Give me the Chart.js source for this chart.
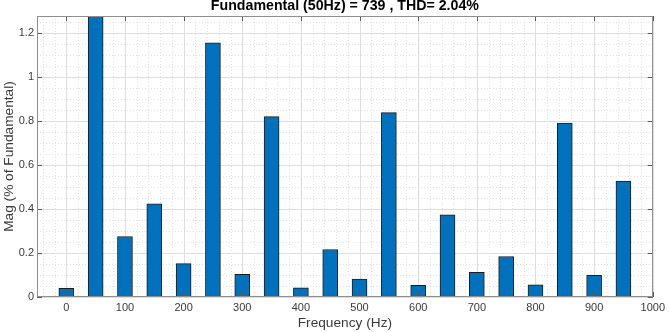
<!DOCTYPE html>
<html>
<head>
<meta charset="utf-8">
<script src="https://cdn.jsdelivr.net/npm/chart.js@4"></script>
<style>
  html, body { margin: 0; padding: 0; background: #fff; }
  #wrap { width: 669px; height: 332px; }
</style>
</head>
<body>
<div id="wrap"><canvas id="fftChart" width="669" height="332"></canvas></div>
<script>
// ---- data ----
const frequencies = [0, 50, 100, 150, 200, 250, 300, 350, 400, 450,
                     500, 550, 600, 650, 700, 750, 800, 850, 900, 950];
// fundamental (50 Hz) is 100 % and runs off the top of the axis
const magnitudes = [0.039, 100, 0.275, 0.423, 0.152, 1.155, 0.103, 0.82, 0.042, 0.216,
                    0.081, 0.838, 0.053, 0.374, 0.112, 0.184, 0.055, 0.79, 0.099, 0.527];
const xTicks = [0, 100, 200, 300, 400, 500, 600, 700, 800, 900, 1000];
const yTicks = [0, 0.2, 0.4, 0.6, 0.8, 1, 1.2];

const FONT = 'Liberation Sans, Arial, Helvetica, sans-serif';

// grid (major solid, minor dotted), inward tick marks and the box frame
const matlabAxes = {
  id: 'matlabAxes',
  beforeDatasetsDraw(chart) {
    const {ctx, chartArea: a, scales: {x, y}} = chart;
    ctx.save();
    ctx.lineWidth = 1;
    // minor grid
    ctx.strokeStyle = '#e3e3e3';
    ctx.setLineDash([1, 2]);
    for (let v = -40; v < 1000; v += 20) {
      if (v % 100 === 0) continue;
      const px = Math.round(x.getPixelForValue(v)) + 0.5;
      ctx.beginPath(); ctx.moveTo(px, a.top); ctx.lineTo(px, a.bottom); ctx.stroke();
    }
    for (let i = 1; i * 0.05 < y.max; i++) {
      if (i % 4 === 0) continue;
      const py = Math.round(y.getPixelForValue(i * 0.05)) + 0.5;
      ctx.beginPath(); ctx.moveTo(a.left, py); ctx.lineTo(a.right, py); ctx.stroke();
    }
    // major grid
    ctx.setLineDash([]);
    ctx.strokeStyle = '#dedede';
    xTicks.forEach(v => {
      const px = Math.round(x.getPixelForValue(v)) + 0.5;
      ctx.beginPath(); ctx.moveTo(px, a.top); ctx.lineTo(px, a.bottom); ctx.stroke();
    });
    yTicks.forEach(v => {
      const py = Math.round(y.getPixelForValue(v)) + 0.5;
      ctx.beginPath(); ctx.moveTo(a.left, py); ctx.lineTo(a.right, py); ctx.stroke();
    });
    ctx.restore();
  },
  afterDatasetsDraw(chart) {
    const {ctx, chartArea: a, scales: {x, y}} = chart;
    const len = 5;
    ctx.save();
    ctx.lineWidth = 1;
    ctx.strokeStyle = '#5a5a5a';
    xTicks.forEach(v => {
      const px = Math.round(x.getPixelForValue(v)) + 0.5;
      ctx.beginPath(); ctx.moveTo(px, a.bottom); ctx.lineTo(px, a.bottom - len); ctx.stroke();
      ctx.beginPath(); ctx.moveTo(px, a.top); ctx.lineTo(px, a.top + len); ctx.stroke();
    });
    yTicks.forEach(v => {
      const py = Math.round(y.getPixelForValue(v)) + 0.5;
      ctx.beginPath(); ctx.moveTo(a.left, py); ctx.lineTo(a.left + len, py); ctx.stroke();
      ctx.beginPath(); ctx.moveTo(a.right, py); ctx.lineTo(a.right - len, py); ctx.stroke();
    });
    ctx.strokeStyle = '#8f8f8f';
    ctx.strokeRect(Math.round(a.left) + 0.5, Math.round(a.top) + 0.5,
                   Math.round(a.right - a.left) - 1, Math.round(a.bottom - a.top) - 1);
    ctx.restore();
  }
};

new Chart(document.getElementById('fftChart'), {
  type: 'bar',
  data: {
    datasets: [{
      data: frequencies.map((f, i) => ({x: f, y: magnitudes[i]})),
      backgroundColor: '#0072BD',
      borderColor: '#1c1c1c',
      borderWidth: 1,
      borderSkipped: false,
      barThickness: 15
    }]
  },
  options: {
    responsive: false,
    animation: false,
    layout: { padding: { top: 0, right: 14, bottom: 0, left: 0 } },
    plugins: {
      legend: { display: false },
      tooltip: { enabled: false },
      title: {
        display: true,
        fullSize: false,
        text: 'Fundamental (50Hz) = 739 , THD= 2.04%',
        color: '#000',
        font: { family: FONT, size: 14.2, weight: 'bold', lineHeight: 1.13 },
        padding: { top: -2, bottom: 2 }
      }
    },
    scales: {
      x: {
        type: 'linear',
        offset: false,
        min: -50,
        max: 1000,
        grid: { display: false, drawTicks: false, offset: false },
        border: { display: false },
        ticks: {
          stepSize: 100,
          autoSkip: false,
          maxRotation: 0,
          padding: 4,
          color: '#3a3a3a',
          font: { family: FONT, size: 11 },
          callback: v => (v % 100 === 0 ? String(v) : '')
        },
        title: {
          display: true,
          text: 'Frequency (Hz)',
          color: '#3a3a3a',
          font: { family: FONT, size: 13.7 },
          padding: { top: 0, bottom: 1 }
        },
        afterFit: s => { s.height = 35; }
      },
      y: {
        min: 0,
        max: 1.277,
        grid: { display: false, drawTicks: false },
        border: { display: false },
        ticks: {
          stepSize: 0.2,
          padding: 3,
          color: '#3a3a3a',
          font: { family: FONT, size: 11 },
          callback: v => {
            const r = Math.round(v * 10) / 10;
            return Math.abs(r - v) < 1e-6 && Math.abs(v * 5 - Math.round(v * 5)) < 1e-6 ? String(r) : '';
          }
        },
        title: {
          display: true,
          text: 'Mag (% of Fundamental)',
          color: '#3a3a3a',
          font: { family: FONT, size: 13.7 },
          padding: { top: 1, bottom: 0 }
        },
        afterFit: s => { s.width = 37; }
      }
    }
  },
  plugins: [matlabAxes]
});
</script>
</body>
</html>
